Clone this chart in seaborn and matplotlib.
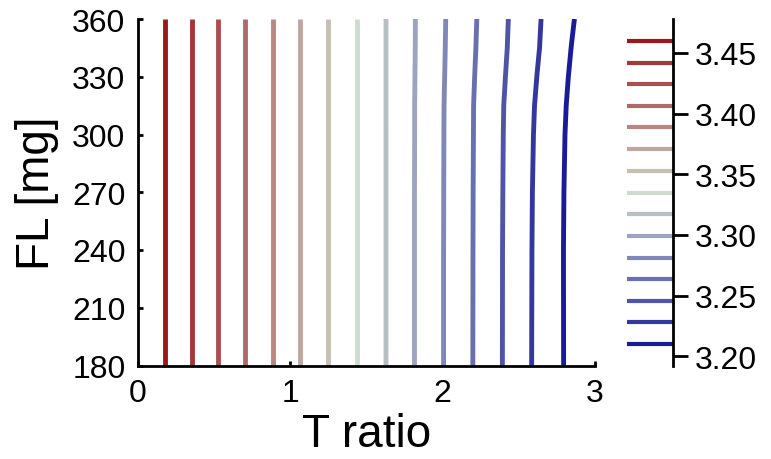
import numpy as np
import matplotlib
matplotlib.use("Agg")
import matplotlib.pyplot as plt
import seaborn as sns

# ---- data ----
levels = [3.2100, 3.2279, 3.2457, 3.2636, 3.2814, 3.2993, 3.3171, 3.3350,
          3.3529, 3.3707, 3.3886, 3.4064, 3.4243, 3.4421, 3.4600]
line_colors = ["#1a1c96", "#34389e", "#5054a6", "#6870b0", "#8088b8",
               "#9ca4c0", "#b6c0c4", "#cedccf", "#c6c0b2", "#bfa69e",
               "#b88880", "#ae6a68", "#a85050", "#a23838", "#9a1a1a"]
fl_rows = [180, 240, 270, 300, 315, 330, 345, 360]
# T ratio at which each contour level crosses each FL row (same order as levels)
t_crossings = [
    [2.794, 2.793, 2.796, 2.803, 2.811, 2.825, 2.843, 2.865],
    [2.584, 2.586, 2.589, 2.596, 2.603, 2.618, 2.636, 2.646],
    [2.392, 2.393, 2.395, 2.398, 2.401, 2.412, 2.424, 2.431],
    [2.198, 2.199, 2.200, 2.202, 2.203, 2.210, 2.218, 2.224],
    [2.006, 2.006, 2.007, 2.008, 2.009, 2.013, 2.017, 2.020],
    [1.815, 1.815, 1.815, 1.816, 1.816, 1.818, 1.820, 1.821],
    [1.628, 1.628, 1.628, 1.628, 1.628, 1.628, 1.628, 1.628],
    [1.438, 1.438, 1.438, 1.438, 1.438, 1.438, 1.438, 1.438],
    [1.250, 1.250, 1.250, 1.250, 1.250, 1.250, 1.250, 1.250],
    [1.066, 1.066, 1.066, 1.066, 1.066, 1.066, 1.066, 1.066],
    [0.884, 0.884, 0.884, 0.884, 0.884, 0.884, 0.884, 0.884],
    [0.705, 0.705, 0.705, 0.705, 0.705, 0.705, 0.705, 0.705],
    [0.527, 0.527, 0.527, 0.527, 0.527, 0.527, 0.527, 0.527],
    [0.353, 0.353, 0.353, 0.353, 0.353, 0.353, 0.353, 0.353],
    [0.177, 0.177, 0.177, 0.177, 0.177, 0.177, 0.177, 0.177],
]
x_ticks = [0, 1, 2, 3]
y_ticks = [180, 210, 240, 270, 300, 330, 360]
cbar_ticks = [3.20, 3.25, 3.30, 3.35, 3.40, 3.45]

# ---- build the field whose iso-lines pass through the read crossings ----
lev = np.array(levels)
tc = np.array(t_crossings)
x_grid = np.linspace(0, 3, 601)
Z = np.empty((len(fl_rows), x_grid.size))
for j in range(len(fl_rows)):
    xs = tc[::-1, j]            # ascending T
    zs = lev[::-1]              # matching (descending) levels
    s0 = (zs[1] - zs[0]) / (xs[1] - xs[0])
    s1 = (zs[-1] - zs[-2]) / (xs[-1] - xs[-2])
    xs_ext = np.concatenate([[-1.0], xs, [4.0]])
    zs_ext = np.concatenate([[zs[0] + s0 * (-1.0 - xs[0])], zs,
                             [zs[-1] + s1 * (4.0 - xs[-1])]])
    Z[j] = np.interp(x_grid, xs_ext, zs_ext)

# ---- style ----
sns.set_style("ticks")
plt.rcParams['font.family'] = ['Liberation Sans', 'DejaVu Sans']
for k in ['text.color', 'axes.labelcolor', 'xtick.color', 'ytick.color', 'axes.edgecolor']:
    plt.rcParams[k] = 'black'

fig = plt.figure(figsize=(7.71, 4.60), dpi=100)
ax = fig.add_axes([138 / 771, 1 - 366.5 / 460, (595 - 138) / 771, (366.5 - 20) / 460])
cax = fig.add_axes([626.5 / 771, 1 - 367 / 460, (673 - 626.5) / 771, (367 - 20) / 460])

ax.contour(x_grid, fl_rows, Z, levels=levels, colors=line_colors, linewidths=3.5)
ax.set_xlim(0, 3)
ax.set_ylim(180, 360)
ax.set_xticks(x_ticks)
ax.set_yticks(y_ticks)
ax.set_xlabel("T ratio", fontsize=33, labelpad=3)
ax.set_ylabel("FL [mg]", fontsize=33, labelpad=9)
ax.tick_params(direction="in", length=3.5, width=2, labelsize=23, color="black")
ax.tick_params(axis="x", pad=9)
ax.tick_params(axis="y", pad=9)
sns.despine(ax=ax)
for s in ["left", "bottom"]:
    ax.spines[s].set_linewidth(2)

# colorbar built from the same levels / colours
cax.hlines(levels, 0, 1, colors=line_colors, linewidth=3)
cax.set_xlim(0, 1)
cax.set_ylim(3.192, 3.478)
cax.set_xticks([])
cax.set_yticks(cbar_ticks)
cax.set_yticklabels([f"{v:.2f}" for v in cbar_ticks])
cax.yaxis.tick_right()
cax.tick_params(axis="y", direction="out", length=11, width=2, labelsize=23, pad=5, color="black")
for s in ["left", "top", "bottom"]:
    cax.spines[s].set_visible(False)
cax.spines["right"].set_linewidth(2)

fig.savefig("out.png", dpi=100)
